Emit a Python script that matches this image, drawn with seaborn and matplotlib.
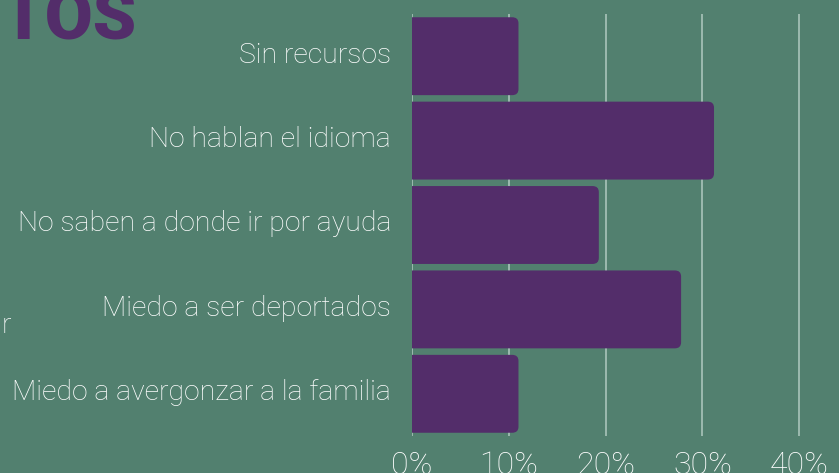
import numpy as np
import pandas as pd
import matplotlib
matplotlib.use("Agg")
import matplotlib.pyplot as plt
import matplotlib.transforms as mtransforms
import seaborn as sb
from matplotlib.patches import FancyBboxPatch

# Datos
motivos = ["Sin recursos", "No hablan el idioma", "No saben a donde ir por ayuda",
           "Miedo a ser deportados", "Miedo a avergonzar a la familia"]
porcentajes = [11, 31.2, 19.3, 27.8, 11]
ticks = [0, 10, 20, 30, 40]
tick_labels = ["0%", "10%", "20%", "30%", "40%"]

fondo = "#52806f"
morado = "#532d6a"

sb.set_style("white")
plt.rcParams['font.family'] = ['Roboto', 'DejaVu Sans']

df = pd.DataFrame({"motivo": motivos, "pct": porcentajes})

fig = plt.figure(figsize=(8.39, 4.73), dpi=100, facecolor=fondo)
W, H = 839, 473
ax = fig.add_axes([412 / W, (H - 436) / H, (W - 412) / W, (436 - 14) / H])
ax.set_facecolor(fondo)

sb.barplot(data=df, x="pct", y="motivo", color=morado, width=0.923,
           saturation=1, ax=ax, zorder=3)

# barras con esquinas redondeadas a la derecha
for p in list(ax.patches):
    x0, y0 = p.get_x(), p.get_y()
    w, h = p.get_width(), p.get_height()
    p.remove()
    fb = FancyBboxPatch((x0 - 1, y0), w + 1, h,
                        boxstyle="round,pad=0,rounding_size=0.65",
                        mutation_aspect=0.11, fc=morado, ec="none",
                        zorder=3, clip_on=True)
    ax.add_patch(fb)

ax.set_xlim(0, (W - 412) / 9.68)
ax.set_xticks(ticks)
ax.set_xticklabels(tick_labels, fontsize=23, color="white", fontweight="light")
ax.tick_params(axis="x", length=0, pad=11)
ax.tick_params(axis="y", length=0, pad=15, labelsize=20.4, labelcolor="white")
# etiquetas un poco por encima del centro de la barra
subir = mtransforms.ScaledTranslation(0, 3 / 72, fig.dpi_scale_trans)
for lab in ax.get_yticklabels():
    lab.set_fontweight("light")
    lab.set_transform(lab.get_transform() + subir)
ax.set_xlabel("")
ax.set_ylabel("")
ax.xaxis.grid(True, color="#a9c4ba", linewidth=1.2, zorder=0)
ax.yaxis.grid(False)
for s in ax.spines.values():
    s.set_visible(False)

# restos del titulo y texto cortados en el borde
fig.text(2 / W, 1 - 39 / H, "TOS", fontsize=50, fontweight="black",
         color=morado, va="baseline", ha="left")
fig.text(2 / W, 1 - 333 / H, "r", fontsize=20.4, fontweight="light",
         color="white", va="baseline", ha="left")

fig.savefig("out.png", dpi=100, facecolor=fondo)
